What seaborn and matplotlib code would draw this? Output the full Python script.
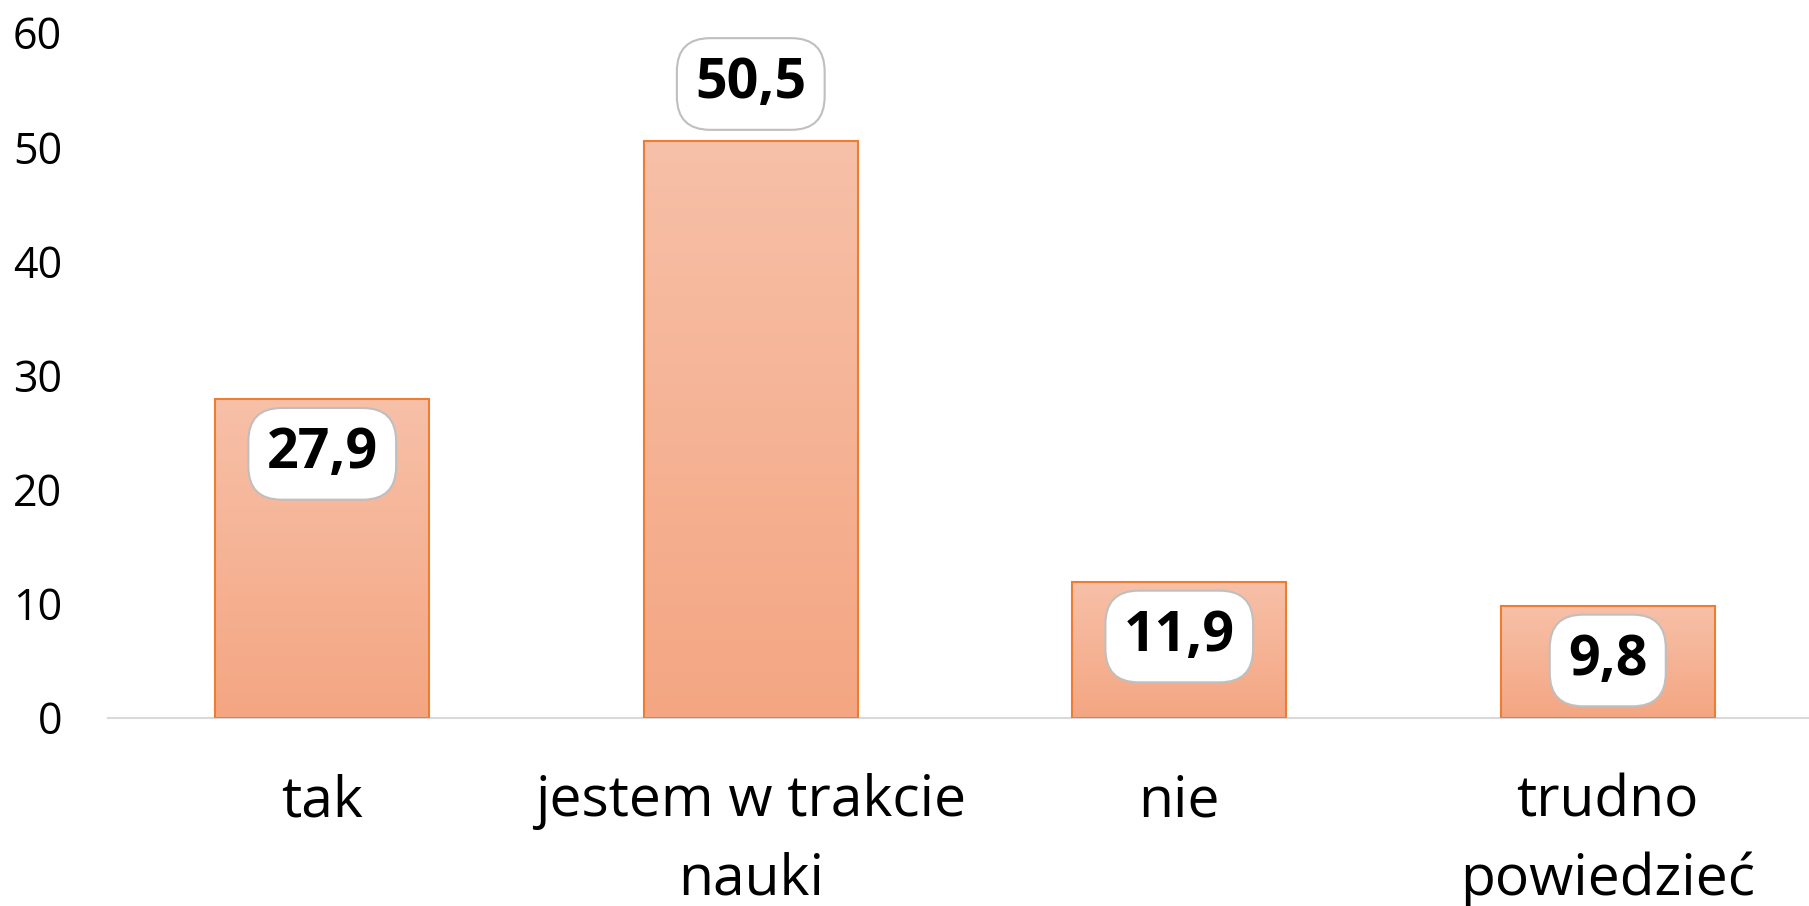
import numpy as np
import pandas as pd
import matplotlib
matplotlib.use("Agg")
import matplotlib.pyplot as plt
import seaborn as sns
from matplotlib.colors import LinearSegmentedColormap

categories = ["tak", "jestem w trakcie\nnauki", "nie", "trudno\npowiedzieć"]
values = [27.9, 50.5, 11.9, 9.8]
value_labels = ["27,9", "50,5", "11,9", "9,8"]
y_ticks = [0, 10, 20, 30, 40, 50, 60]

sns.set_theme(style="white")
plt.rcParams["font.family"] = ["Open Sans", "DejaVu Sans"]

fig = plt.figure(figsize=(18.09, 9.06), dpi=100)
ax = fig.add_axes([0.0597, 0.208, 0.9475, 0.756])

df = pd.DataFrame({"cat": categories, "val": values})
sns.barplot(data=df, x="cat", y="val", ax=ax, width=0.5,
            color="#F5B08F", edgecolor="#ED7D31", linewidth=1.5, saturation=1)

cmap = LinearSegmentedColormap.from_list("g", ["#F4A682", "#F7C0A8"])
grad = np.linspace(0, 1, 256).reshape(-1, 1)
for p in ax.patches:
    x0, y0 = p.get_x(), p.get_y()
    w, h = p.get_width(), p.get_height()
    im = ax.imshow(grad, cmap=cmap, aspect="auto", origin="lower",
                   extent=[x0, x0 + w, y0, y0 + h], zorder=p.get_zorder() - 0.01)
    im.set_clip_path(p)
    p.set_facecolor("none")
    p.set_zorder(3)

ax.set_xlim(-0.5, 3.5)
ax.set_ylim(0, 60)
ax.set_yticks(y_ticks)
ax.set_xlabel("")
ax.set_ylabel("")
for s in ["top", "right", "left"]:
    ax.spines[s].set_visible(False)
ax.spines["bottom"].set_color("#D9D9D9")
ax.spines["bottom"].set_linewidth(1.5)
ax.tick_params(axis="y", length=0, pad=33, labelsize=31, labelcolor="#000000")
ax.tick_params(axis="x", length=0, pad=40, labelsize=41, labelcolor="#000000")
for t in ax.get_xticklabels():
    t.set_linespacing(1.5)

# value labels
for i, (v, lab) in enumerate(zip(values, value_labels)):
    if v > 40:
        ypos = v + 5.0
    else:
        ypos = v - 4.8
    ax.text(i, ypos, lab, ha="center", va="center", fontsize=40, fontweight="bold",
            color="#000000", zorder=5,
            bbox=dict(boxstyle="round,pad=0.33,rounding_size=0.6", fc="white",
                      ec="#BFBFBF", lw=1.5))

fig.savefig("out.png", dpi=100)
